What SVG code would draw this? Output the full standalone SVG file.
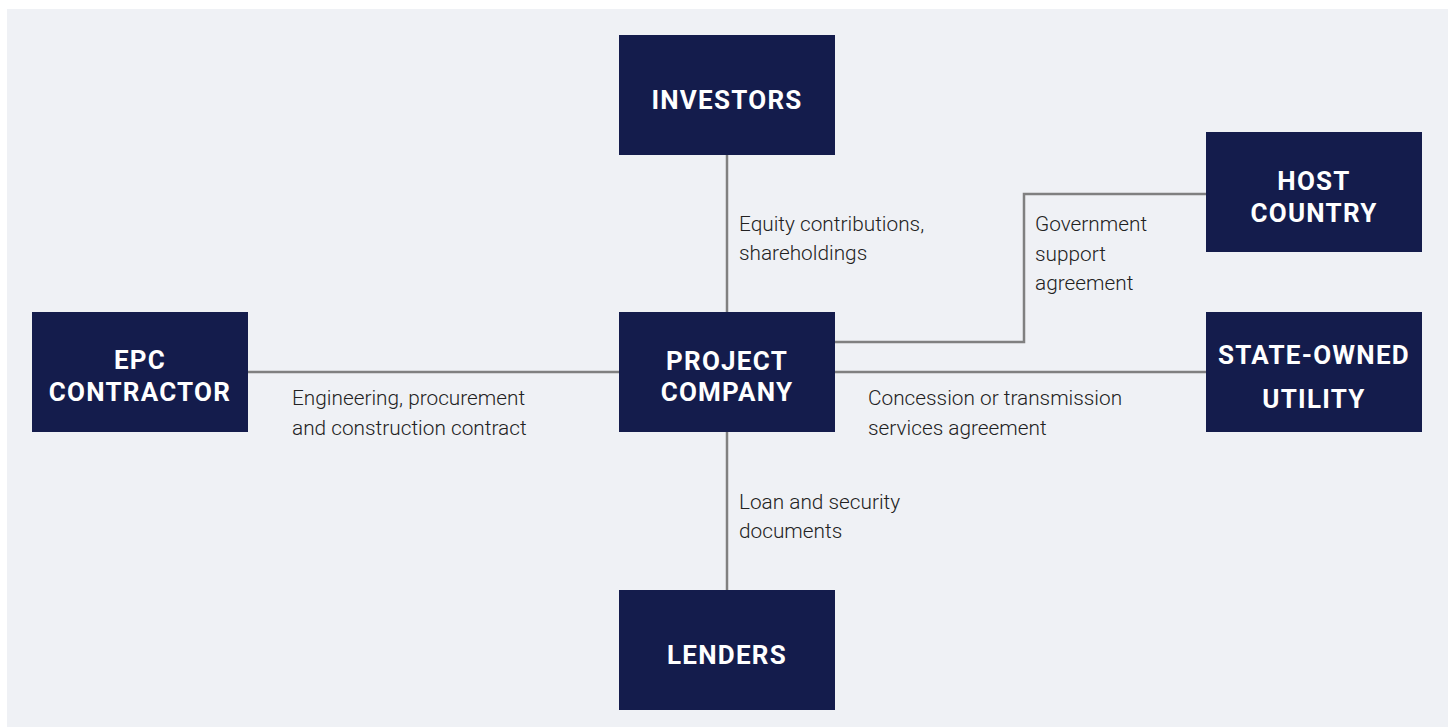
<svg xmlns="http://www.w3.org/2000/svg" width="1448" height="727" viewBox="0 0 1448 727">
<style>
.node{fill:#141c4c}
.t{font-family:Roboto,"Liberation Sans",sans-serif;font-weight:700;font-size:26px;fill:#ffffff;text-anchor:middle;letter-spacing:1.25px}
.l{font-family:Roboto,"Liberation Sans",sans-serif;font-weight:300;font-size:20.8px;fill:#222222}
.c{fill:none;stroke:#808080;stroke-width:2.5}
</style>
<rect x="0" y="0" width="1448" height="727" fill="#ffffff"/>
<rect x="7" y="9" width="1441" height="718" fill="#eff1f5"/>
<g id="connectors">
<line class="c" x1="727" y1="155" x2="727" y2="312"/>
<line class="c" x1="727" y1="432" x2="727" y2="590"/>
<line class="c" x1="248" y1="372" x2="619" y2="372"/>
<line class="c" x1="835" y1="372" x2="1206" y2="372"/>
<polyline class="c" points="835,342 1024,342 1024,194 1206,194"/>
</g>
<g id="labels">
<text class="l" x="739" y="231">Equity contributions,</text>
<text class="l" x="739" y="260">shareholdings</text>
<text class="l" x="1035" y="231">Government</text>
<text class="l" x="1035" y="261">support</text>
<text class="l" x="1035" y="290">agreement</text>
<text class="l" x="292" y="405">Engineering, procurement</text>
<text class="l" x="292" y="435">and construction contract</text>
<text class="l" x="868" y="405">Concession or transmission</text>
<text class="l" x="868" y="435">services agreement</text>
<text class="l" x="739" y="509">Loan and security</text>
<text class="l" x="739" y="538">documents</text>
</g>
<g id="investors">
<rect class="node" x="619" y="35" width="216" height="120"/>
<text class="t" x="727" y="109">INVESTORS</text>
</g>
<g id="host-country">
<rect class="node" x="1206" y="132" width="216" height="120"/>
<text class="t" x="1314" y="190">HOST</text>
<text class="t" x="1314" y="222">COUNTRY</text>
</g>
<g id="epc-contractor">
<rect class="node" x="32" y="312" width="216" height="120"/>
<text class="t" x="140" y="369">EPC</text>
<text class="t" x="140" y="401">CONTRACTOR</text>
</g>
<g id="project-company">
<rect class="node" x="619" y="312" width="216" height="120"/>
<text class="t" x="727" y="370">PROJECT</text>
<text class="t" x="727" y="401">COMPANY</text>
</g>
<g id="state-owned-utility">
<rect class="node" x="1206" y="312" width="216" height="120"/>
<text class="t" x="1314" y="364">STATE-OWNED</text>
<text class="t" x="1314" y="408">UTILITY</text>
</g>
<g id="lenders">
<rect class="node" x="619" y="590" width="216" height="120"/>
<text class="t" x="727" y="664">LENDERS</text>
</g>
</svg>
